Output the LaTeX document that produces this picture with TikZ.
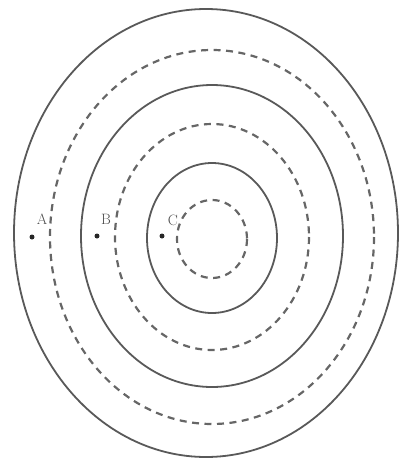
\documentclass[tikz,border=0pt]{standalone}
\begin{document}
\begin{tikzpicture}[x=1pt,y=-1pt,
  ring/.style={draw=black!65, line width=1.8pt},
  dring/.style={draw=black!60, line width=2.2pt, dash pattern=on 7pt off 5.5pt},
  pt/.style={circle, fill=black!85, inner sep=0pt, minimum size=5pt},
  lbl/.style={text=black!70, font=\fontsize{15}{15}\selectfont, inner sep=0pt}]
\useasboundingbox (0,0) rectangle (401,459);
\draw[ring] (206,233) ellipse [x radius=192, y radius=224];
\draw[dring] (212,237) ellipse [x radius=162, y radius=187];
\draw[ring] (212,236) ellipse [x radius=131, y radius=151];
\draw[dring] (212,237) ellipse [x radius=97, y radius=113];
\draw[ring] (212,238) ellipse [x radius=65, y radius=75];
\draw[dring] (212,239) ellipse [x radius=35, y radius=39];
\node[pt] (a) at (32,237) {};
\node[pt] (b) at (97,236) {};
\node[pt] (c) at (162,236) {};
\node[lbl] (la) at (42,219) {A};
\node[lbl] (lb) at (106,219) {B};
\node[lbl] (lc) at (173,220) {C};
\end{tikzpicture}
\end{document}
